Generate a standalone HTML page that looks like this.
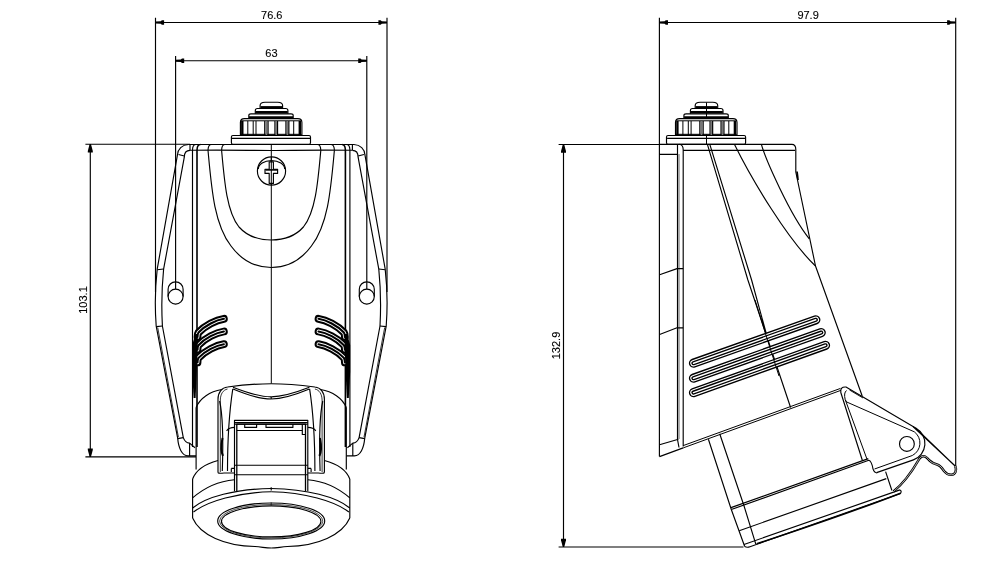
<!DOCTYPE html>
<html><head><meta charset="utf-8">
<style>
html,body{margin:0;padding:0;background:#fff;width:998px;height:570px;overflow:hidden}
svg{display:block;will-change:transform}
text{font-family:"Liberation Sans",sans-serif;font-size:11px;fill:#000;stroke:#000;stroke-width:0.12px}
</style></head><body>
<svg width="998" height="570" viewBox="0 0 998 570">
<defs>
<g id="gland">
  <rect x="231.4" y="135.5" width="79.1" height="8.7" rx="1.5"/>
  <path d="M232 138.4H310"/>
  <path d="M240.4 135V122.5Q240.4 118.6 244.5 118.6H297.8Q301.9 118.6 301.9 122.5V135Z"/>
  <path d="M241 120.8H301.3M241 134.3H301.3" stroke-width="1"/>
  <path d="M242.3 121V135M299.8 121V135" stroke-width="2.4"/>
  <path d="M247.8 121V135M253.2 121V135M256 121V135M293.7 121V135" stroke-width="1"/>
  <path d="M264.8 121V135M268 121V135M275 121V135M277.5 121V135M286 121V135M288.8 121V135" stroke-width="1.3"/>
  <path d="M266.4 121V135M276.2 121V135M287.4 121V135" stroke="#777" stroke-width="1.6"/>
  <path d="M248.8 118.6V115.5Q248.8 113.8 251 113.8H291Q293.2 113.8 293.2 115.5V118.6"/>
  <path d="M249 117.4H293" stroke-width="2.2"/>
  <path d="M255.3 113.8V110.5Q255.3 108.5 257.5 108.5H285.7Q287.9 108.5 287.9 110.5V113.8"/>
  <path d="M255.5 112.2H287.7" stroke-width="2.6"/>
  <path d="M260.1 108.5V105.5Q260.1 102.2 265 102.2H277.7Q282.6 102.2 282.6 105.5V108.5"/>
  <path d="M260.5 107.2H282.2" stroke-width="2.2"/>
</g>
<g id="lbrk">
  <path d="M188.5 144.5C182 144.8 177.8 149 177.5 154.7L157.2 269.2Q154 297 156.2 326.2L177.7 438.4C178.5 448 182 455.7 188 455.9H196"/>
  <path d="M157.7 327.5L178.4 437" stroke-width="0.8"/>
  <path d="M190 150.3C187 150.3 184.3 152.5 184.3 157.2L163.6 269.2Q160.8 297 162.4 326L183.3 437.6C184.5 441 186.5 443 189.6 443.1L195 447.8"/>
  <path d="M157.2 269.8L163.6 269M156.3 326.6L162.5 326M189.6 443.1V455.9M177.7 438.6L183.3 437.6M178.5 154.5L184.3 156M190 144.5V150.3"/>
  <path d="M168.1 289.3A7.5 7.5 0 0 1 183.1 289.3V296.6M168.1 289.3V296.6"/>
  <circle cx="175.6" cy="296.6" r="7.5"/>
  <path d="M192.5 150.3V447M192.5 150.3Q192.5 144.5 196 144.5"/>
  <path d="M197 150.3V447M197 150.3Q197 144.5 200.5 144.5" stroke-width="1.6"/>
</g>
<g id="lrib">
  <path d="M223.9 318.8C216 320 205 325.5 198.5 332.5Q197.5 334 197.5 337" stroke="#000" stroke-width="7.8" stroke-linecap="round"/>
  <path d="M223.9 318.8C216 320 205 325.5 198.5 332.5Q197.5 334 197.5 337" stroke="#fff" stroke-width="3.8" stroke-linecap="round"/>
  <path d="M223.9 318.8C216 320 205 325.5 198.5 332.5Q197.5 334 197.5 337" stroke="#000" stroke-width="2.1" stroke-linecap="round"/>
</g>
</defs>

<g fill="none" stroke="#000" stroke-width="1.15" stroke-linejoin="round">
<!-- ===== LEFT VIEW dims ===== -->
<path d="M155.5 17.7V292M387 17.7V292M155.5 22.5H387"/>
<path d="M175.6 56V289M366.8 56V289M175.6 60.7H366.8"/>
<path d="M85.4 144.2H190M85.4 456.8H196M90.3 144.2V456.8"/>
<g fill="#000" stroke="none">
<polygon points="155.5,21.5 160.7,21.3 161.9,20.2 164.1,20.3 164.1,24.7 161.9,24.8 160.7,23.7 155.5,23.5"/>
<polygon points="387.0,21.5 381.8,21.3 380.6,20.2 378.4,20.3 378.4,24.7 380.6,24.8 381.8,23.7 387.0,23.5"/>
<polygon points="175.6,59.7 180.8,59.5 182.0,58.4 184.2,58.5 184.2,62.9 182.0,63.0 180.8,61.9 175.6,61.7"/>
<polygon points="366.8,59.7 361.6,59.5 360.4,58.4 358.2,58.5 358.2,62.9 360.4,63.0 361.6,61.9 366.8,61.7"/>
<polygon points="89.6,144.3 87.8,151.1 87.8,152.5 92.8,152.5 92.8,151.1 91.0,144.3"/>
<polygon points="89.6,456.8 87.8,450.0 87.8,448.6 92.8,448.6 92.8,450.0 91.0,456.8"/>
</g>

<use href="#gland"/>
<!-- body top -->
<path d="M188.5 144.5H354M190 150.3C230 149.8 250 150.5 271.2 150.5C292 150.5 312 149.8 352.4 150.3"/>
<path d="M271.3 144.5V383.7" stroke-width="1"/>
<use href="#lbrk"/>
<use href="#lbrk" transform="translate(542.4 0) scale(-1 1)"/>
<g id="ucurves">
<path d="M208 150.3C211.5 188 214 224 231 246C242 261 257 267.5 271.2 267.5"/>
<path d="M221.6 150.3C224.5 183 227 212 239 227C247 236 258 240 271.2 240"/>
<path d="M208 150.3Q208.2 144.5 211.5 144.5M221.6 150.3Q221.8 144.5 225 144.5"/>
</g>
<use href="#ucurves" transform="translate(542.4 0) scale(-1 1)"/>
<!-- screw -->
<circle cx="271.5" cy="171" r="14.1"/>
<path d="M258.3 169A13.2 8.4 0 0 1 284.7 169"/>
<path d="M265 169.2H269.2V161.8H273.4V169.2H277.6V173.4H273.4V183.4H269.2V173.4H265Z" fill="#fff"/>
<path d="M265.5 169.9H277" stroke-width="1.6"/>
<path d="M271.3 157V185" stroke-width="1"/>
<!-- ribs -->
<use href="#lrib"/>
<use href="#lrib" transform="translate(0 12.7)"/>
<use href="#lrib" transform="translate(0 25.4)"/>
<use href="#lrib" transform="translate(542.4 0) scale(-1 1)"/>
<use href="#lrib" transform="translate(542.4 12.7) scale(-1 1)"/>
<use href="#lrib" transform="translate(542.4 25.4) scale(-1 1)"/>
<g id="lband"><path d="M195.3 334L197.9 334L197.6 350L196.8 372L195.6 398L193.6 398L192.2 372L192.2 345Z" fill="#000" stroke="none"/></g>
<use href="#lband" transform="translate(542.4 0) scale(-1 1)"/>
<g id="lsock">
<!-- socket body -->
<path d="M196.1 407.5C200 398 210 391.5 221.8 389.5M196.1 407.5V469.5"/>
<!-- lid -->
<path d="M218 472.8V399.3C218 392 222 387.5 227.5 387C245 384.7 258 383.7 271.2 383.7"/>
<path d="M220.3 472V400C220.5 394 223 390 227.5 389" stroke-width="0.8"/>
<path d="M233 387.3C245 392 258 396.8 271.2 396.8M233 389C245 394 258 399 271.2 399"/>
<path d="M232.8 388.8C229.5 410 227.5 440 227.5 471M219.6 401C224 420 223 450 222.3 471"/>
<path d="M226.6 430.8Q229 427.3 234.5 427.3M218 472.8Q219 473.5 224 473H234.5"/>
<path d="M222.5 438C221 445 221 452 223 456" stroke-width="2"/>
<path d="M231.3 468.4H234.5M231.3 468.4V472"/>
<!-- ring -->
<path d="M192.6 479V518"/>
<path d="M192.6 479C196 470 205 464 218 460.5"/>
<path d="M192.6 497.9C205 487 220 481 234.5 479.7"/>
<path d="M192.6 508C206 497 235 489 271.2 488.5"/>
<path d="M193.5 512C208 501 238 492.5 271.2 491.8"/>
<path d="M192.6 518C200 535 225 546 255 546.5C262 547 266 548 271.2 548"/>
</g>
<use href="#lsock" transform="translate(542.4 0) scale(-1 1)"/>
<path d="M271.2 396.8V399M271.2 487.3V490.5"/>
<!-- window -->
<path d="M234.5 491.3V420.3H307.8V491.3"/>
<path d="M236.8 491.3V424.2H305.5V491.3" stroke-width="1.3"/>
<path d="M234.5 422.6H307.8M234.5 424.2H307.8M236.8 430.5H302.3M234.5 465.2H307.8M234.5 474.7H307.8"/>
<path d="M244.7 424.2V427.4H256.6V424.2M266 424.2V427.4H292.9V424.2M302.3 424.2V434.5H305.5"/>
<ellipse cx="271.2" cy="521" rx="53.5" ry="18"/>
<ellipse cx="271.2" cy="521.2" rx="51.6" ry="16.7" stroke-width="0.7"/>
<ellipse cx="271.2" cy="521.4" rx="49.7" ry="15.5"/>
<path d="M271.2 502.5V505.5" stroke-width="0.8"/>

<!-- ===== RIGHT VIEW ===== -->
<path d="M659.4 17.7V144M955.7 17.7V466.8M659.4 22.5H955.7"/>
<path d="M558.6 144.5H666.6M558.6 547H743.5M563.5 144.5V547"/>
<g fill="#000" stroke="none">
<polygon points="659.4,21.5 664.6,21.3 665.8,20.2 668.0,20.3 668.0,24.7 665.8,24.8 664.6,23.7 659.4,23.5"/>
<polygon points="955.7,21.5 950.5,21.3 949.3,20.2 947.1,20.3 947.1,24.7 949.3,24.8 950.5,23.7 955.7,23.5"/>
<polygon points="562.8,144.5 561.0,151.3 561.0,152.7 566.0,152.7 566.0,151.3 564.2,144.5"/>
<polygon points="562.8,547.0 561.0,540.2 561.0,538.8 566.0,538.8 566.0,540.2 564.2,547.0"/>
</g>
<use href="#gland" transform="translate(435.1 0)"/>
<path d="M706.5 102.5V119M706.5 134.5V144.3" stroke-width="1"/>
<!-- body -->
<path d="M659.4 144.3H791.9Q795.8 144.3 795.8 149.5V172L815.5 266L862.2 396"/>
<path d="M797 171.5L798 180" stroke-width="1.8"/>
<path d="M683.2 150.4H795"/>
<path d="M659.4 144V456.6M677.5 144.3V439.5L679 447.5M683.2 150V446.5M659.4 154.3H677.5"/>
<path d="M679 154V439" stroke-width="0.6"/>
<path d="M679.5 144.3Q683.2 145 683.2 150"/>
<path d="M659.6 274.7L677 268.6H683.2M659.6 334.5L677 327.8H683.2"/>
<path d="M707.4 144.3L747.9 280L790.6 407.5M709.8 144.3L751.6 280L768 340"/>
<path d="M734.4 144.3C752 180 788 240 815.5 266"/>
<path d="M761.4 144.3C765 158 790 215 809.3 238.8"/>
<path d="M659.5 456.6L683.2 447.9M659.5 444.7L678.4 439.2"/>
<path d="M683.2 447.9L841 390.3M683.2 445.6L840.5 388.4" stroke-width="1"/>
<!-- ribs right -->
<path d="M693.5 363.2L815.8 319.8M693.5 378.2L821.2 332.6M693.5 392.6L825.5 345.3" stroke-width="9.2" stroke-linecap="round"/>
<path d="M693.5 363.2L815.8 319.8M693.5 378.2L821.2 332.6M693.5 392.6L825.5 345.3" stroke="#fff" stroke-width="6.5" stroke-linecap="round"/>
<path d="M693.5 363.2L815.8 319.8M693.5 378.2L821.2 332.6M693.5 392.6L825.5 345.3" stroke-width="4.2" stroke-linecap="round"/>
<path d="M693.5 363.2L815.8 319.8M693.5 378.2L821.2 332.6M693.5 392.6L825.5 345.3" stroke="#fff" stroke-width="1.5" stroke-linecap="round"/>
<path d="M755 300L767.5 340L779 376" stroke-width="1"/>
<!-- socket tube -->
<path d="M708.4 439.3L731.3 509.5L744.7 546.5M719.7 433.7L743.9 505.5L755.8 544.2"/>
<path d="M731.3 509.5L868.8 460.3Q871.5 461 873 468.8Q874 472.5 877.2 473M731 507.6L868.3 458.6" />
<path d="M739.2 530.8L886.3 478.6M885.6 471.6L891.9 490.5"/>
<path d="M744 544.5L900 489.9M744.7 546.5Q747 547.8 750 546.7L900.5 493.5Q902 491 900 489.9"/>
<path d="M756.7 543.8C800 529.5 860 509 900.5 493.2" stroke-width="1.5"/>
<!-- flap -->
<path d="M862.4 460.5L840.8 392.5Q840 386.5 846 387L916 428.2A17.5 17.5 0 0 1 913.4 459.9L876.6 472.6"/>
<path d="M867.1 459.5L845.2 399.5Q843.5 393 846.5 390.5M845.3 399.8Q846 402.5 849 403L914.3 431.8A14 14 0 0 1 912.3 455.5L874.5 469" stroke-width="1"/>
<path d="M849.5 390L863 398" stroke-width="0.9"/>
<circle cx="906.9" cy="443.9" r="7.4"/>
<path d="M913 426.5L955.2 466M915.5 428L954 465" />
<path d="M955.2 466C957 470 955.5 474.8 951.5 474.8C948 475 946 473.5 944 471C942 468 940.5 465.5 937 464.5C933.5 463.5 931.5 462.5 929.5 460.5C927.5 458 926 456.2 923.5 456.2C921 456.2 919.5 458 918.3 460.5C914 468 905 482 893.5 491.5" stroke-width="2.5"/>
<path d="M955.2 466C957 470 955.5 474.8 951.5 474.8C948 475 946 473.5 944 471C942 468 940.5 465.5 937 464.5C933.5 463.5 931.5 462.5 929.5 460.5C927.5 458 926 456.2 923.5 456.2C921 456.2 919.5 458 918.3 460.5C914 468 905 482 893.5 491.5" stroke="#fff" stroke-width="0.7"/>
</g>

<g>
<text x="271.8" y="19.2" text-anchor="middle">76.6</text>
<text x="271.4" y="57.2" text-anchor="middle">63</text>
<text x="808.1" y="19.1" text-anchor="middle">97.9</text>
<text transform="translate(87.1 300) rotate(-90)" text-anchor="middle">103.1</text>
<text transform="translate(560.3 345.5) rotate(-90)" text-anchor="middle">132.9</text>
</g>
</svg>
</body></html>
